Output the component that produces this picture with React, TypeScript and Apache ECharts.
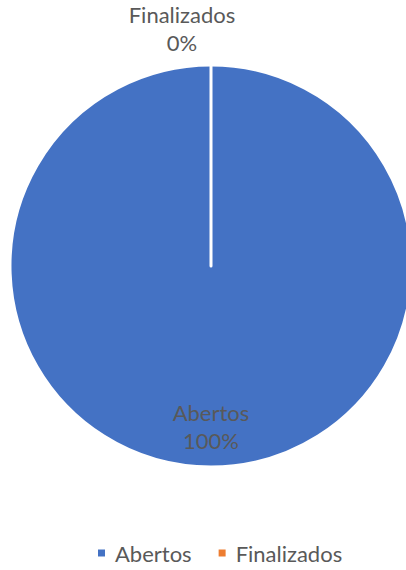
import React, { useEffect, useRef } from "react";
import * as echarts from "echarts";

const categories = ["Abertos", "Finalizados"];
const values = [100, 0];
const colors = ["#4472C4", "#ED7D31"];

export default function App() {
  const ref = useRef<HTMLDivElement>(null);
  useEffect(() => {
    document.body.style.margin = "0";
    const chart = echarts.init(ref.current!, null, { renderer: "svg" });
    const font = "Lato, 'Liberation Sans', sans-serif";
    chart.setOption({
      animation: false,
      color: colors,
      legend: {
        data: categories,
        top: 537,
        left: 91,
        icon: "rect",
        itemWidth: 9,
        itemHeight: 9,
        itemGap: 25,
        textStyle: { fontSize: 22, color: "#595959", fontFamily: font, padding: [0, 0, 0, 4] },
      },
      series: [
        {
          type: "pie",
          center: [211, 266],
          radius: 201,
          startAngle: 90,
          clockwise: true,
          itemStyle: { borderColor: "#ffffff", borderWidth: 3 },
          labelLine: { show: false },
          label: {
            position: "inside",
            formatter: "{b}\n{d}%",
            fontSize: 22,
            lineHeight: 28,
            color: "#595959",
            fontFamily: font,
          },
          data: categories.map((c, i) => ({
            name: c,
            value: values[i],
            label: i === 0 ? { offset: [0, 57] } : { offset: [-29, -134] },
          })),
        },
      ],
    });
    return () => chart.dispose();
  }, []);
  return <div ref={ref} style={{ width: 406, height: 570 }} />;
}
